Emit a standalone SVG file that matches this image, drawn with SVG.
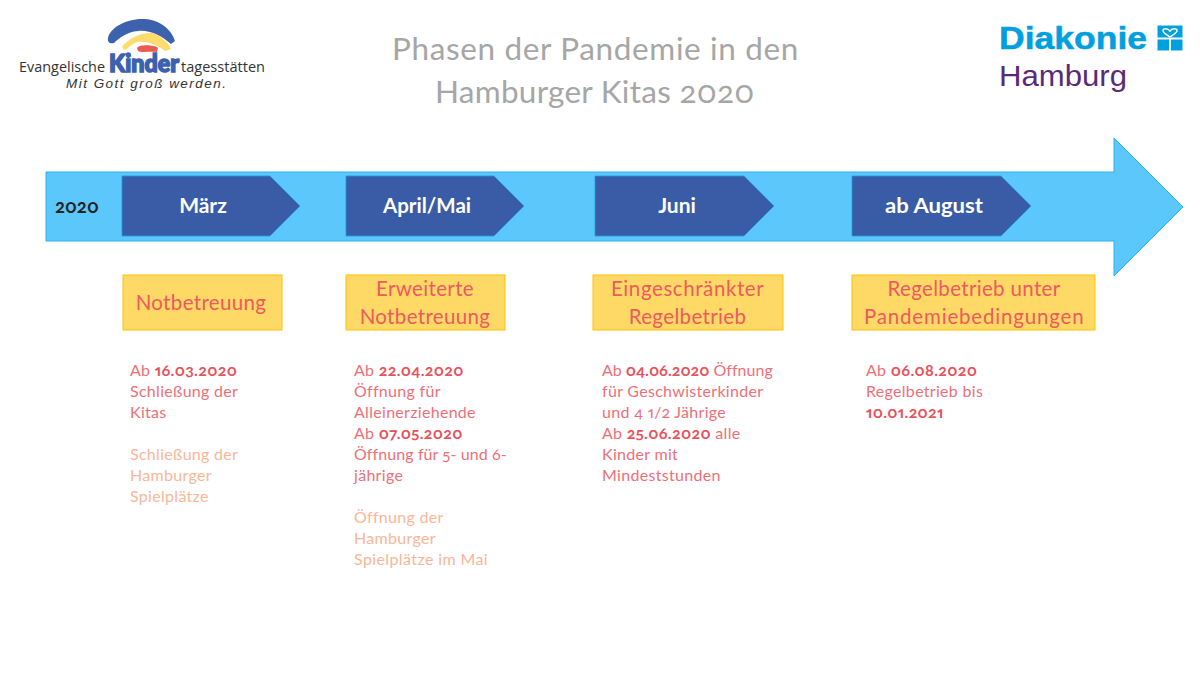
<svg xmlns="http://www.w3.org/2000/svg" width="1200" height="675" viewBox="0 0 1200 675">
<style>
text{font-family:Lato,"Open Sans",sans-serif;font-feature-settings:"onum","pnum"}
.t{font-size:31.5px;fill:#a6a6a6;text-anchor:middle;letter-spacing:.6px}
.ph{fill:#3a5ca6;stroke:#1f9be0;stroke-width:.8}
.ml{font-size:21px;font-weight:700;fill:#fff;text-anchor:middle}
.bx{fill:#ffd966;stroke:#ffc000;stroke-width:1}
.h{font-size:20.5px;fill:#f0595f;text-anchor:middle;letter-spacing:.35px}
.b{font-size:16px;fill:#ee6f77;letter-spacing:.3px}
.p{font-size:16px;fill:#fab698;letter-spacing:.3px}
.s{font-weight:700;fill:#e9505a}
.lg{font-family:"Liberation Sans",sans-serif}
.os{font-family:"Open Sans",sans-serif}
</style>
<rect width="1200" height="675" fill="#fff"/>
<g id="logo-kinder">
<path d="M108 38C110 28 126 18 145 19C160 20 172 30 175 41L171 44C160 35 150 30 138 31C127 32 119 38 114 43C110 44 107 42 108 38Z" fill="#3c62ad"/>
<path d="M122 47C128 38 142 32 152 33C160 35 168 42 171 49L165 51C156 44 146 41 137 42C131 44 127 50 124 50Z" fill="#fbdc6c"/>
<path d="M137 48C140 44 155 45 158 48L157 52C150 51 142 53 138 51Z" fill="#ea5b50"/>
<text class="os" x="19" y="72" font-size="14.500" fill="#333" textLength="86" lengthAdjust="spacingAndGlyphs">Evangelische</text>
<text class="os" x="181" y="72" font-size="14.500" fill="#333" textLength="84" lengthAdjust="spacingAndGlyphs">tagesstätten</text>
<text x="109" y="72" font-size="24" font-weight="900" fill="#3c62ad" stroke="#3c62ad" stroke-width="1.500" textLength="70" lengthAdjust="spacingAndGlyphs">Kinder</text>
<text class="lg" x="66" y="88" font-size="13.500" font-style="italic" fill="#333" textLength="160" lengthAdjust="spacing">Mit Gott groß werden.</text>
</g>
<g id="logo-diakonie">
<text class="lg" x="999" y="49" font-size="32" font-weight="700" fill="#00a0e0" stroke="#00a0e0" stroke-width=".5" textLength="148" lengthAdjust="spacingAndGlyphs">Diakonie</text>
<text class="lg" x="999" y="85.500" font-size="30" fill="#5a2a78" textLength="128" lengthAdjust="spacingAndGlyphs">Hamburg</text>
<rect x="1157.500" y="25.500" width="25" height="25" fill="#00a0e0"/>
<path d="M1157 38.500h26M1170 38.500v13" stroke="#fff" stroke-width="1.800" fill="none"/>
<path d="M1170 37C1166 34 1163 33 1163 30.500C1163 28 1168 28 1170 31C1172 28 1177 28 1177 30.500C1177 33 1174 34 1170 37Z" fill="none" stroke="#fff" stroke-width="1.500"/>
</g>
<g id="title">
<text class="t" x="595.500" y="60" textLength="407">Phasen der Pandemie in den</text>
<text class="t" x="595" y="103" textLength="320">Hamburger Kitas 2020</text>
</g>
<g id="timeline">
<path d="M46 172H1114V138L1183 207L1114 276V241H46Z" fill="#5bc7fa" stroke="#27b4f2" stroke-width="1"/>
<text x="55" y="213" font-size="18.500" font-weight="700" fill="#222">2020</text>
</g>
<g id="maerz">
<path class="ph" d="M122 176H270L300 206L270 236H122Z"/>
<text class="ml" x="203" y="213">März</text>
<rect class="bx" x="123" y="275" width="159" height="55"/>
<text class="h" x="201" y="310">Notbetreuung</text>
<text class="b" x="130" y="375.500">Ab <tspan class="s">16.03.2020</tspan></text>
<text class="b" x="130" y="396.500">Schließung der</text>
<text class="b" x="130" y="417.500">Kitas</text>
<text class="p" x="130" y="459.500">Schließung der</text>
<text class="p" x="130" y="480.500">Hamburger</text>
<text class="p" x="130" y="501.500">Spielplätze</text>
</g>
<g id="april-mai">
<path class="ph" d="M346 176H494L524 206L494 236H346Z"/>
<text class="ml" x="427" y="213" textLength="88" lengthAdjust="spacingAndGlyphs">April/Mai</text>
<rect class="bx" x="346" y="275" width="159" height="55"/>
<text class="h" x="425" y="296">Erweiterte</text>
<text class="h" x="425" y="324">Notbetreuung</text>
<text class="b" x="354" y="375.500">Ab <tspan class="s">22.04.2020</tspan></text>
<text class="b" x="354" y="396.500">Öffnung für</text>
<text class="b" x="354" y="417.500">Alleinerziehende</text>
<text class="b" x="354" y="438.500">Ab <tspan class="s">07.05.2020</tspan></text>
<text class="b" x="354" y="459.500" textLength="153">Öffnung für 5- und 6-</text>
<text class="b" x="354" y="480.500">jährige</text>
<text class="p" x="354" y="522.500">Öffnung der</text>
<text class="p" x="354" y="543.500">Hamburger</text>
<text class="p" x="354" y="564.500" textLength="134">Spielplätze im Mai</text>
</g>
<g id="juni">
<path class="ph" d="M595 176H744L774 206L744 236H595Z"/>
<text class="ml" x="677" y="213">Juni</text>
<rect class="bx" x="593" y="275" width="190" height="55"/>
<text class="h" x="687.500" y="296" textLength="153">Eingeschränkter</text>
<text class="h" x="687.500" y="324">Regelbetrieb</text>
<text class="b" x="602" y="375.500" textLength="171">Ab <tspan class="s">04.06.2020</tspan> Öffnung</text>
<text class="b" x="602" y="396.500">für Geschwisterkinder</text>
<text class="b" x="602" y="417.500">und 4 1/2 Jährige</text>
<text class="b" x="602" y="438.500">Ab <tspan class="s">25.06.2020</tspan> alle</text>
<text class="b" x="602" y="459.500">Kinder mit</text>
<text class="b" x="602" y="480.500">Mindeststunden</text>
</g>
<g id="ab-august">
<path class="ph" d="M852 176H1001L1031 206L1001 236H852Z"/>
<text class="ml" x="934" y="213" textLength="98" lengthAdjust="spacingAndGlyphs">ab August</text>
<rect class="bx" x="852" y="275" width="243" height="55"/>
<text class="h" x="974" y="296" textLength="173">Regelbetrieb unter</text>
<text class="h" x="974" y="324" textLength="220">Pandemiebedingungen</text>
<text class="b" x="866" y="375.500">Ab <tspan class="s">06.08.2020</tspan></text>
<text class="b" x="866" y="396.500">Regelbetrieb bis</text>
<text class="b s" x="866" y="417.500">10.01.2021</text>
</g>
</svg>
